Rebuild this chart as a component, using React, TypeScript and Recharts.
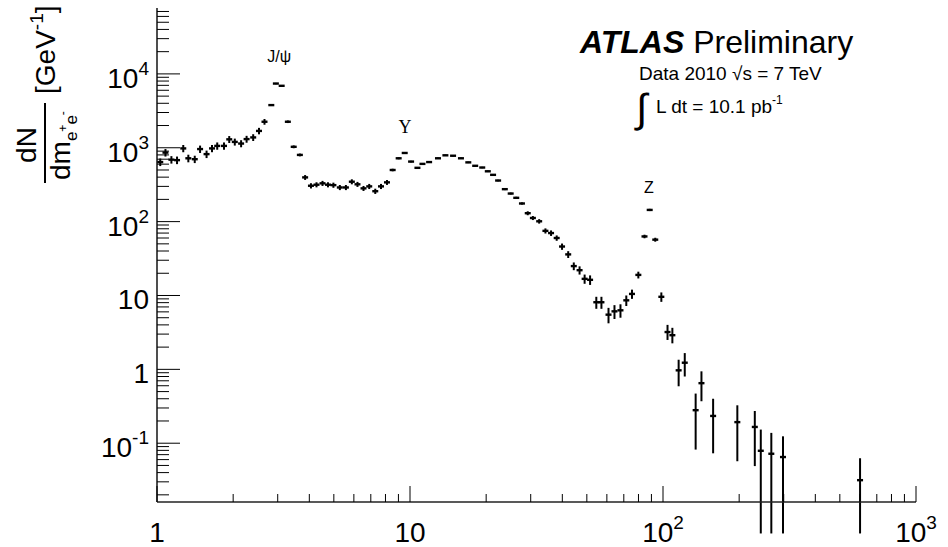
import React from "react";
import { ScatterChart, Scatter, XAxis, YAxis, ErrorBar, ReferenceDot } from "recharts";

// Dielectron invariant mass spectrum, ATLAS 2010 data.
const MASS = [
  1.03, 1.08, 1.14, 1.2, 1.27, 1.33, 1.41, 1.48, 1.57, 1.65, 1.73, 1.84, 1.93, 2.03, 2.15, 2.26, 2.4, 2.53, 2.66,
  2.83, 2.95, 3.11, 3.29, 3.47, 3.67,
  3.85, 4.06, 4.27, 4.51, 4.74, 4.98, 5.28, 5.58, 5.89, 6.2, 6.55, 6.9, 7.29, 7.68, 8.11,
  8.54, 9.02, 9.53,
  10.1, 10.7, 11.2, 11.9, 12.9, 13.8, 14.8, 15.9, 17.0, 18.1, 19.3, 20.3, 21.3, 22.3, 23.7, 25.0, 26.3, 27.7,
  29.2, 30.6, 32.4, 34.3, 36.1, 38.0, 39.9, 42.2, 44.4, 46.8, 49.0, 51.5,
  54.5, 57.1, 60.9, 64.3, 67.9, 71.6, 75.4, 79.9,
  84.5, 88.6, 93.2, 98.5,
  104.2, 108.9, 115.3, 121.9, 134.6, 141.9, 157.8, 196.7, 230.6, 243.5, 268, 298, 601,
];

const DN_DM = [
  640, 860, 690, 680, 980, 720, 700, 960, 820, 980, 1060, 1060, 1300, 1200, 1140, 1310, 1380, 1690, 2250,
  3780, 7400, 6900, 2250, 1030, 800,
  397, 306, 316, 330, 316, 312, 290, 290, 347, 320, 282, 300, 258, 300, 340,
  500, 720, 850,
  650, 535, 605, 640, 720, 790, 780, 720, 634, 570, 540, 480, 430, 360, 275, 240, 210, 176,
  130, 112, 101, 75, 70, 60, 46, 36, 25, 22, 16.8, 16.3,
  8.1, 8.1, 5.5, 6.1, 6.3, 8.6, 10.5, 19.0,
  63, 144, 57, 9.6,
  3.2, 2.9, 0.97, 1.23, 0.28, 0.65, 0.234, 0.193, 0.166, 0.079, 0.072, 0.065, 0.0316,
];

const ERR_UP = [
  75, 100, 80, 80, 110, 85, 80, 110, 95, 110, 120, 120, 140, 130, 125, 140, 145, 170, 200,
  80, 150, 140, 90, 45, 35,
  30, 25, 25, 26, 25, 25, 23, 23, 27, 25, 22, 24, 21, 24, 26,
  20, 22, 24,
  16, 13, 14, 15, 16, 17, 17, 16, 14, 13, 12, 11, 10, 9, 8, 7, 7, 6,
  8, 7, 7, 6, 6, 5, 4.5, 3.8, 3, 2.8, 2.4, 2.4,
  1.5, 1.5, 1.3, 1.3, 1.3, 1.4, 1.5, 2,
  3.5, 5, 3.5, 1.4,
  0.8, 0.75, 0.38, 0.43, 0.19, 0.29, 0.166, 0.133, 0.107, 0.074, 0.066, 0.059, 0.031,
];

const ERR_DOWN = [
  75, 100, 80, 80, 110, 85, 80, 110, 95, 110, 120, 120, 140, 130, 125, 140, 145, 170, 200,
  80, 150, 140, 90, 45, 35,
  30, 25, 25, 26, 25, 25, 23, 23, 27, 25, 22, 24, 21, 24, 26,
  20, 22, 24,
  16, 13, 14, 15, 16, 17, 17, 16, 14, 13, 12, 11, 10, 9, 8, 7, 7, 6,
  8, 7, 7, 6, 6, 5, 4.5, 3.8, 3, 2.8, 2.4, 2.4,
  1.5, 1.5, 1.3, 1.3, 1.3, 1.4, 1.5, 2,
  3.5, 5, 3.5, 1.4,
  0.7, 0.65, 0.38, 0.43, 0.198, 0.28, 0.161, 0.136, 0.117, 0.073, 0.066, 0.059, 0.0256,
];

const X_MAJOR = [1, 10, 100, 1000];
const X_LABELS: [string, string][] = [["1", ""], ["10", ""], ["10", "2"], ["10", "3"]];
const X_MINOR = [2, 3, 4, 5, 6, 7, 8, 9, 20, 30, 40, 50, 60, 70, 80, 90, 200, 300, 400, 500, 600, 700, 800, 900];

const Y_MAJOR = [0.1, 1, 10, 100, 1000, 10000];
const Y_LABELS: [string, string][] = [["10", "-1"], ["1", ""], ["10", ""], ["10", "2"], ["10", "3"], ["10", "4"]];
const Y_MINOR = [
  0.02, 0.03, 0.04, 0.05, 0.06, 0.07, 0.08, 0.09,
  0.2, 0.3, 0.4, 0.5, 0.6, 0.7, 0.8, 0.9,
  2, 3, 4, 5, 6, 7, 8, 9,
  20, 30, 40, 50, 60, 70, 80, 90,
  200, 300, 400, 500, 600, 700, 800, 900,
  2000, 3000, 4000, 5000, 6000, 7000, 8000, 9000,
  20000, 30000, 40000, 50000, 60000, 70000,
];

const RESONANCES = [
  { name: "J/ψ", m: 3.04, y: 17500, serif: false },
  { name: "Υ", m: 9.56, y: 1960, serif: true },
  { name: "Z", m: 88, y: 291, serif: false },
];

const FONT = "'Liberation Sans', Arial, Helvetica, sans-serif";
const X_TICKS = [...X_MAJOR, ...X_MINOR].sort((a, b) => a - b);
const Y_TICKS = [...Y_MAJOR, ...Y_MINOR].sort((a, b) => a - b);

const data = MASS.map((m, i) => ({ m, v: DN_DM[i], err: [ERR_DOWN[i], ERR_UP[i]] }));

function label(pair: [string, string], props: any) {
  return (
    <text {...props} fontFamily={FONT} fill="#000">
      {pair[0]}
      {pair[1] && (
        <tspan dy={-13} fontSize={19}>
          {pair[1]}
        </tspan>
      )}
    </text>
  );
}

function BottomTick({ x, y, payload }: any) {
  const i = X_MAJOR.indexOf(payload.value);
  return (
    <g>
      <line x1={x} x2={x} y1={y} y2={y - (i >= 0 ? 16 : 8)} stroke="#000" />
      {i >= 0 && label(X_LABELS[i], { x, y: y + 40, textAnchor: "middle", fontSize: 28 })}
    </g>
  );
}

function TopTick({ x, y, payload }: any) {
  const major = X_MAJOR.includes(payload.value);
  return <line x1={x} x2={x} y1={y} y2={y + (major ? 14 : 7)} stroke="#000" />;
}

function LeftTick({ x, y, payload }: any) {
  const i = Y_MAJOR.indexOf(payload.value);
  return (
    <g>
      <line x1={x} x2={x + (i >= 0 ? 23 : 12)} y1={y} y2={y} stroke="#000" />
      {i >= 0 && label(Y_LABELS[i], { x: x - 8, y: y + 14, textAnchor: "end", fontSize: 28 })}
    </g>
  );
}

function RightTick({ x, y, payload }: any) {
  const major = Y_MAJOR.includes(payload.value);
  return <line x1={x} x2={x - (major ? 23 : 12)} y1={y} y2={y} stroke="#000" />;
}

function Dash({ cx, cy }: any) {
  return <rect x={cx - 3} y={cy - 1.2} width={6} height={2.4} fill="#000" />;
}

export default function App() {
  const frame = { stroke: "#222", strokeWidth: 1.6 };
  return (
    <div style={{ position: "absolute", left: 0, top: 0, width: 948, height: 547, background: "#fff" }}>
      <ScatterChart width={948} height={547} margin={{ top: 8, right: 32, bottom: 0, left: 0 }}>
        <XAxis
          xAxisId="m"
          dataKey="m"
          type="number"
          scale="log"
          domain={[1, 1000]}
          allowDataOverflow
          ticks={X_TICKS}
          interval={0}
          height={45}
          tickSize={0}
          tickMargin={0}
          tickLine={false}
          axisLine={frame}
          tick={<BottomTick />}
        />
        <XAxis
          xAxisId="top"
          orientation="top"
          dataKey="m"
          type="number"
          scale="log"
          domain={[1, 1000]}
          allowDataOverflow
          ticks={X_TICKS}
          interval={0}
          height={0}
          tickSize={0}
          tickMargin={0}
          tickLine={false}
          axisLine={frame}
          tick={<TopTick />}
        />
        <YAxis
          yAxisId="v"
          dataKey="v"
          type="number"
          scale="log"
          domain={[0.016, 78000]}
          allowDataOverflow
          ticks={Y_TICKS}
          interval={0}
          width={157}
          tickSize={0}
          tickMargin={0}
          tickLine={false}
          axisLine={frame}
          tick={<LeftTick />}
        />
        <YAxis
          yAxisId="right"
          orientation="right"
          dataKey="v"
          type="number"
          scale="log"
          domain={[0.016, 78000]}
          allowDataOverflow
          ticks={Y_TICKS}
          interval={0}
          width={0}
          tickSize={0}
          tickMargin={0}
          tickLine={false}
          axisLine={frame}
          tick={<RightTick />}
        />
        <Scatter xAxisId="top" yAxisId="right" data={data} shape={() => <g />} isAnimationActive={false} />
        <Scatter xAxisId="m" yAxisId="v" data={data} shape={<Dash />} isAnimationActive={false}>
          <ErrorBar dataKey="err" direction="y" width={0} stroke="#000" strokeWidth={2} isAnimationActive={false} />
        </Scatter>
        {RESONANCES.map((r) => (
          <ReferenceDot
            key={r.name}
            xAxisId="m"
            yAxisId="v"
            x={r.m}
            y={r.y}
            r={0}
            stroke="none"
            fill="none"
            label={{
              value: r.name,
              position: "center",
              fontSize: r.serif ? 18 : 16,
              fill: "#000",
              fontFamily: r.serif ? "'Liberation Serif', 'DejaVu Serif', serif" : FONT,
            }}
          />
        ))}
      </ScatterChart>
      <svg width={948} height={547} style={{ position: "absolute", left: 0, top: 0, pointerEvents: "none" }}>
        <g fontFamily={FONT} fill="#000">
          <text x={580} y={53} fontSize={32}>
            <tspan fontWeight="bold" fontStyle="italic">ATLAS</tspan> Preliminary
          </text>
          <text x={639} y={80} fontSize={19}>
            Data 2010 √s = 7 TeV
          </text>
          <text x={636} y={122} fontSize={40}>∫</text>
          <text x={656} y={113} fontSize={19}>
            L dt = 10.1 pb<tspan dy={-9} fontSize={12}>-1</tspan>
          </text>
        </g>
        <g transform="translate(45,188) rotate(-90)" fontFamily={FONT} fill="#000">
          <text x={43} y={-9} fontSize={28} textAnchor="middle">dN</text>
          <line x1={5} x2={85} y1={0} y2={0} stroke="#000" strokeWidth={2} />
          <text x={8} y={25} fontSize={28}>
            dm
            <tspan fontSize={17} dy={7}>e</tspan>
            <tspan fontSize={12} dy={-10}>+</tspan>
            <tspan fontSize={17} dy={10}>e</tspan>
            <tspan fontSize={12} dy={-10}>-</tspan>
          </text>
          <text x={94} y={10} fontSize={28}>
            [GeV<tspan dy={-12} fontSize={19}>-1</tspan>
            <tspan dy={12}>]</tspan>
          </text>
        </g>
      </svg>
    </div>
  );
}
